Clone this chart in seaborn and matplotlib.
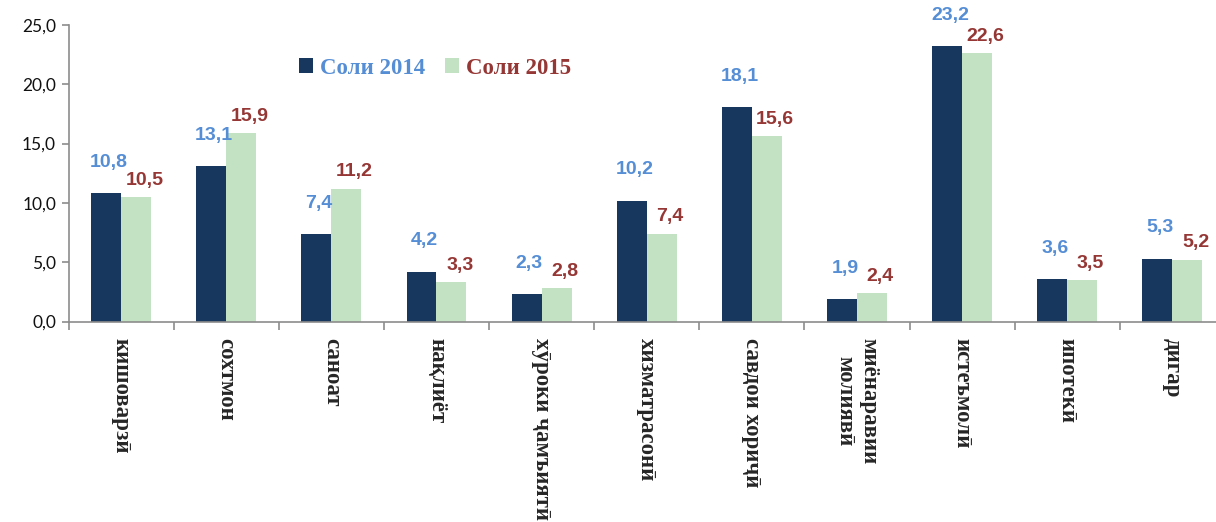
import matplotlib
matplotlib.use("Agg")
import matplotlib.pyplot as plt
import seaborn as sns
import pandas as pd
from matplotlib.patches import Patch
from matplotlib.ticker import FuncFormatter

# ---- data ----
categories = ["кишоварзӣ", "сохтмон", "саноат", "нақлиёт", "хӯроки ҷамъиятӣ",
              "хизматрасонӣ", "савдои хориҷӣ", "миёнаравии\nмолиявӣ",
              "истеъмолӣ", "ипотекӣ", "дигар"]
series_names = ["Соли 2014", "Соли 2015"]
values_2014 = [10.8, 13.1, 7.4, 4.2, 2.3, 10.2, 18.1, 1.9, 23.2, 3.6, 5.3]
values_2015 = [10.5, 15.9, 11.2, 3.3, 2.8, 7.4, 15.6, 2.4, 22.6, 3.5, 5.2]
y_ticks = [0, 5, 10, 15, 20, 25]

bar_colors = ["#17375E", "#C3E2C4"]
label_colors = ["#558ED5", "#953735"]
axis_gray = "#8C8C8C"

df = pd.DataFrame({
    "cat": categories * 2,
    "val": values_2014 + values_2015,
    "year": [series_names[0]] * len(categories) + [series_names[1]] * len(categories),
})

sns.set_theme(style="white")
serif = ["Liberation Serif", "DejaVu Serif"]
sans = ["Lato", "Liberation Sans", "DejaVu Sans"]
label_sans = ["Liberation Sans", "DejaVu Sans"]

fig = plt.figure(figsize=(12.16, 5.22), dpi=100)
W, H = 1216, 522
x0, x1, ytop, ybot = 68.5, 1225, 25, 321.5
ax = fig.add_axes([x0 / W, 1 - ybot / H, (x1 - x0) / W, (ybot - ytop) / H])

sns.barplot(data=df, x="cat", y="val", hue="year", order=categories,
            hue_order=series_names, palette=bar_colors, width=0.57,
            saturation=1, legend=False, ax=ax, errorbar=None, linewidth=0)

ax.set_xlim(-0.5, len(categories) - 0.5)
ax.set_ylim(0, 25)
ax.set_xlabel("")
ax.set_ylabel("")

for s in ["top", "right"]:
    ax.spines[s].set_visible(False)
for s in ["left", "bottom"]:
    ax.spines[s].set_color(axis_gray)
    ax.spines[s].set_linewidth(1.2)

# y axis
ax.set_yticks(y_ticks)
ax.yaxis.set_major_formatter(FuncFormatter(lambda v, p: f"{v:.1f}".replace(".", ",")))
ax.tick_params(axis="y", length=5, width=1.2, color=axis_gray, pad=4, labelsize=12.5,
               left=True)
for t in ax.get_yticklabels():
    t.set_fontfamily(sans)
    t.set_color("#111111")

# x axis
ax.set_xticks(range(len(categories)))
ax.set_xticklabels(categories, rotation=270, fontfamily=serif, fontweight="bold",
                   fontsize=16.5, va="top", ha="center", multialignment="center")
ax.set_xticks([i - 0.5 for i in range(len(categories) + 1)], minor=True)
ax.tick_params(axis="x", which="major", length=0, pad=12)
ax.tick_params(axis="x", which="minor", length=6, width=1.2, color=axis_gray, bottom=True)

# data labels
offsets = [(2, 16), (6, 6)]
for cont, vals, col, (dx, dy) in zip(ax.containers, [values_2014, values_2015],
                                     label_colors, offsets):
    for patch, v in zip(cont.patches, vals):
        ax.annotate(f"{v:.1f}".replace(".", ","),
                    xy=(patch.get_x() + patch.get_width() / 2, patch.get_height()),
                    xytext=(dx, dy), textcoords="offset points",
                    ha="center", va="bottom", color=col, fontsize=14,
                    fontweight="bold", fontfamily=label_sans)

# legend
handles = [Patch(facecolor=c, edgecolor="none") for c in bar_colors]
leg = fig.legend(handles, series_names, loc="center left",
                 bbox_to_anchor=(299 / W, 1 - 68 / H), ncol=2, frameon=False,
                 prop={"family": serif, "weight": "bold", "size": 16.5},
                 handlelength=0.6, handleheight=0.6, handletextpad=0.3,
                 columnspacing=0.9, borderpad=0, borderaxespad=0)
for t, c in zip(leg.get_texts(), label_colors):
    t.set_color(c)

fig.savefig("out.png", dpi=100)
